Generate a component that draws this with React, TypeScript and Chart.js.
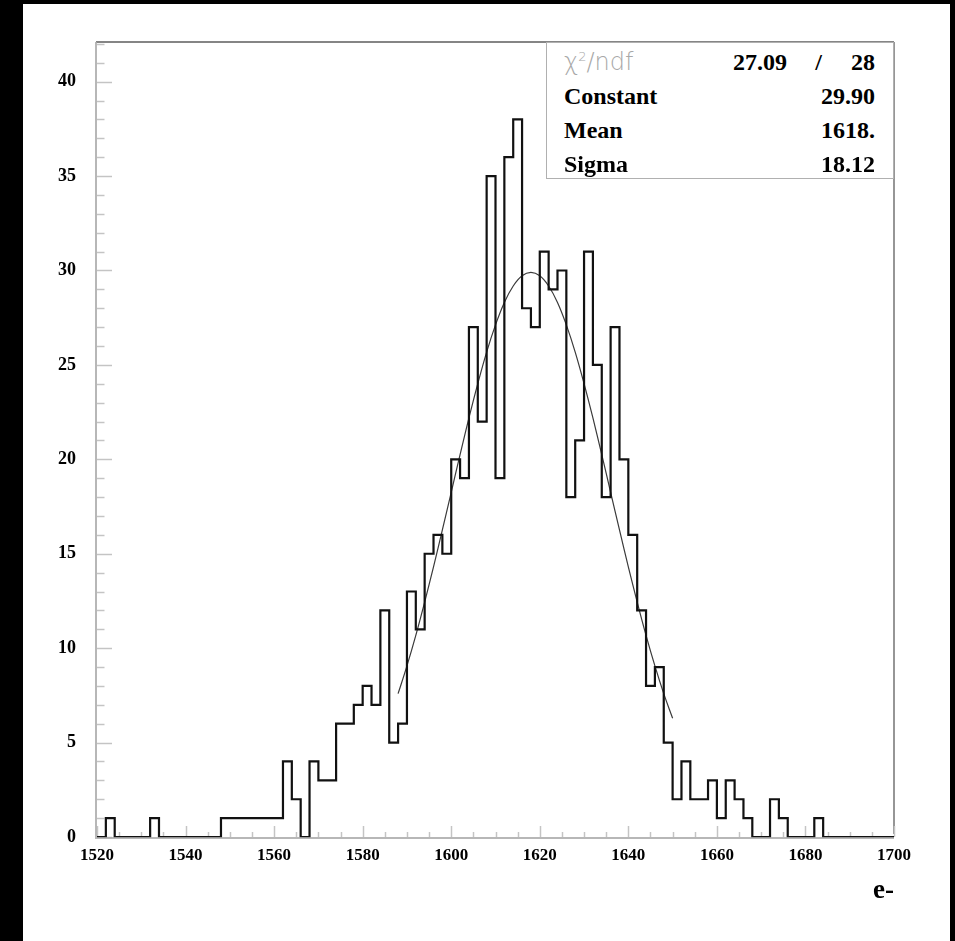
import React, { useEffect, useRef } from "react";
import { Chart, registerables } from "chart.js";

Chart.register(...registerables);

// ---- data ----
const binStart = 1520;
const binWidth = 2;
const binCounts = [
  0, 1, 0, 0, 0, 0, 1, 0, 0, 0,
  0, 0, 0, 0, 1, 1, 1, 1, 1, 1,
  1, 4, 2, 0, 4, 3, 3, 6, 6, 7,
  8, 7, 12, 5, 6, 13, 11, 15, 16, 15,
  20, 19, 27, 22, 35, 19, 36, 38, 28, 27,
  31, 29, 30, 18, 21, 31, 25, 18, 27, 20,
  16, 12, 8, 9, 5, 2, 4, 2, 2, 3,
  1, 3, 2, 1, 0, 0, 2, 1, 0, 0,
  0, 1, 0, 0, 0, 0, 0, 0, 0, 0,
];
const fitX = [
  1588, 1590, 1592, 1594, 1596, 1598, 1600, 1602, 1604, 1606, 1608, 1610,
  1612, 1614, 1616, 1618, 1620, 1622, 1624, 1626, 1628, 1630, 1632, 1634,
  1636, 1638, 1640, 1642, 1644, 1646, 1648, 1650,
];
const fitY = [
  7.59, 9.06, 10.68, 12.44, 14.31, 16.26, 18.25, 20.25, 22.19, 24.01, 25.68, 27.12,
  28.31, 29.18, 29.72, 29.9, 29.72, 29.18, 28.31, 27.12, 25.68, 24.01, 22.19, 20.25,
  18.25, 16.26, 14.31, 12.44, 10.68, 9.06, 7.59, 6.29,
];
const xMin = 1520;
const xMax = 1700;
const yMin = 0;
const yMax = 42.1;
const xMajorStep = 20;
const xMinorStep = 5;
const yMajorStep = 5;
const yMinorStep = 1;
const xTitle = "e-";
const chi2Label = "ndf";
const chi2Value = "27.09";
const ndfValue = "28";
const statLabels = ["Constant", "Mean", "Sigma"];
const statValues = ["29.90", "1618.", "18.12"];

const histPoints = binCounts.map((c, i) => ({ x: binStart + binWidth * i, y: c }));
histPoints.push({ x: binStart + binWidth * binCounts.length, y: 0 });
const fitPoints = fitX.map((x, i) => ({ x, y: fitY[i] }));

const framePlugin = {
  id: "rootFrame",
  beforeDatasetsDraw(chart: any) {
    const { ctx, chartArea: a, scales } = chart;
    const x = scales.x;
    const y = scales.y;
    ctx.save();
    const seg = (x1: number, y1: number, x2: number, y2: number) => {
      ctx.beginPath();
      ctx.moveTo(x1, y1);
      ctx.lineTo(x2, y2);
      ctx.stroke();
    };
    // top frame
    ctx.strokeStyle = "#858585";
    ctx.lineWidth = 2;
    seg(a.left - 1, a.top, a.right, a.top);
    // right frame
    ctx.strokeStyle = "#505050";
    ctx.lineWidth = 1.2;
    seg(a.right, a.top, a.right, a.bottom - 3);
    // ticks
    ctx.strokeStyle = "#c4c4c4";
    ctx.lineWidth = 1.5;
    for (let v = yMin; v <= yMax; v += yMinorStep) {
      const py = Math.round(y.getPixelForValue(v)) + 0.5;
      const len = v % yMajorStep === 0 ? 15 : 7.5;
      seg(a.left, py, a.left + len, py);
    }
    for (let v = xMin; v <= xMax; v += xMinorStep) {
      const px = Math.round(x.getPixelForValue(v)) + 0.5;
      const len = (v - xMin) % xMajorStep === 0 ? 11 : 5;
      seg(px, a.bottom, px, a.bottom - len);
    }
    ctx.restore();
  },
  afterDatasetsDraw(chart: any) {
    const { ctx, chartArea: a } = chart;
    ctx.save();
    ctx.strokeStyle = "rgba(170,170,170,0.85)";
    ctx.lineWidth = 2;
    ctx.beginPath();
    ctx.moveTo(a.left - 1, a.top);
    ctx.lineTo(a.left - 1, a.bottom + 1);
    ctx.lineTo(a.right, a.bottom + 1);
    ctx.stroke();
    ctx.restore();
  },
};

const serif = "'Liberation Serif', 'Times New Roman', serif";

export default function App() {
  const ref = useRef<HTMLCanvasElement | null>(null);
  useEffect(() => {
    if (!ref.current) return;
    const chart = new Chart(ref.current, {
      type: "line",
      data: {
        datasets: [
          {
            label: "hist",
            data: histPoints,
            stepped: "before",
            borderColor: "#111111",
            borderWidth: 2.2,
            pointRadius: 0,
            fill: false,
            clip: 6,
          } as any,
          {
            label: "fit",
            data: fitPoints,
            borderColor: "#3a3a3a",
            borderWidth: 1.2,
            pointRadius: 0,
            tension: 0.4,
            fill: false,
          },
        ],
      },
      options: {
        animation: false,
        responsive: false,
        devicePixelRatio: 1,
        layout: { padding: { left: 0, top: 42, right: 61, bottom: 0 } },
        plugins: { legend: { display: false }, tooltip: { enabled: false }, title: { display: false } },
        scales: {
          x: {
            type: "linear",
            min: xMin,
            max: xMax,
            grid: { display: false, drawTicks: false },
            border: { display: false },
            ticks: {
              stepSize: xMajorStep,
              includeBounds: false,
              padding: 8,
              color: "#000",
              font: { family: serif, size: 17, weight: "bold" },
              maxRotation: 0,
              autoSkip: false,
              callback: (v: any) => String(v),
            },
            title: {
              display: true,
              text: xTitle,
              align: "end",
              color: "#000",
              font: { family: serif, size: 27, weight: "bold" },
              padding: { top: 0, bottom: 34 },
            },
            afterFit(scale: any) {
              scale.height = 104;
            },
          },
          y: {
            type: "linear",
            min: yMin,
            max: yMax,
            grid: { display: false, drawTicks: false },
            border: { display: false },
            ticks: {
              stepSize: yMajorStep,
              includeBounds: false,
              padding: 21,
              color: "#000",
              font: { family: serif, size: 18, weight: "bold" },
              callback: (v: any) => String(v),
            },
            afterFit(scale: any) {
              scale.width = 97;
            },
          },
        },
      },
      plugins: [framePlugin],
    } as any);
    return () => chart.destroy();
  }, []);

  const rowTop = 44;
  const rowH = 34;
  const valStyle: React.CSSProperties = {
    position: "absolute",
    right: 18,
    fontFamily: serif,
    fontWeight: "bold",
    fontSize: 24,
    lineHeight: rowH + "px",
    color: "#000",
  };
  const labStyle: React.CSSProperties = {
    position: "absolute",
    left: 17,
    fontFamily: serif,
    fontWeight: "bold",
    fontSize: 24,
    lineHeight: rowH + "px",
    color: "#000",
  };

  return (
    <div style={{ position: "absolute", left: 0, top: 0, width: 955, height: 941, background: "#000", overflow: "hidden" }}>
      <div style={{ position: "absolute", left: 23, top: 4, width: 927, height: 937, background: "#fff" }} />
      <canvas ref={ref} width={955} height={941} style={{ position: "absolute", left: 0, top: 0, width: 955, height: 941 }} />
      <div
        style={{
          position: "absolute",
          left: 546,
          top: 42,
          width: 348,
          height: 137,
          boxSizing: "border-box",
          border: "1px solid #b0b0b0",
          background: "#fff",
        }}
      >
        <div style={{ position: "absolute", left: 0, right: 0, top: rowTop - 44 + 2, height: rowH }}>
          <span
            style={{
              position: "absolute",
              left: 17,
              fontFamily: "'DejaVu Sans', sans-serif",
              fontWeight: 200,
              fontSize: 24,
              lineHeight: rowH + "px",
              color: "#a8a8a8",
            }}
          >
            χ<sup style={{ fontSize: 13, verticalAlign: 0, position: "relative", top: -9 }}>2</sup>/{chi2Label}
          </span>
          <span style={{ ...valStyle, right: 106 }}>{chi2Value}</span>
          <span style={{ ...valStyle, right: 71 }}>/</span>
          <span style={valStyle}>{ndfValue}</span>
        </div>
        {statLabels.map((l, i) => (
          <div key={l} style={{ position: "absolute", left: 0, right: 0, top: rowTop - 44 + 2 + (i + 1) * rowH, height: rowH }}>
            <span style={labStyle}>{l}</span>
            <span style={valStyle}>{statValues[i]}</span>
          </div>
        ))}
      </div>
    </div>
  );
}
